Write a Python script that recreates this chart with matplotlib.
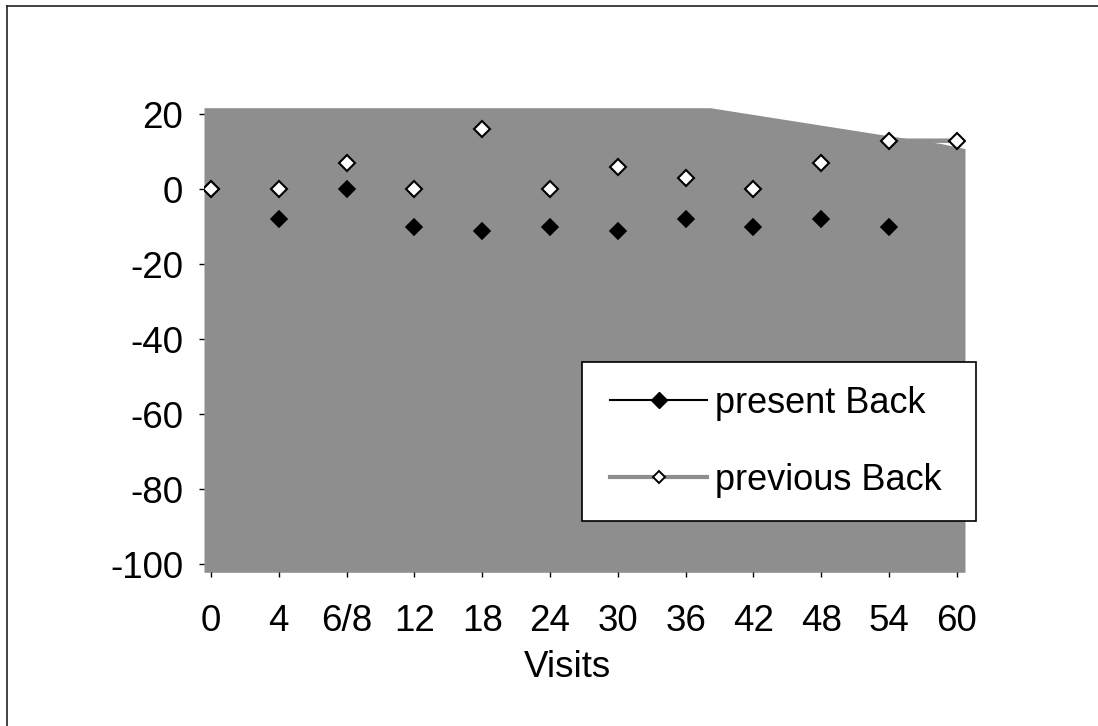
import numpy as np
import matplotlib
matplotlib.use("Agg")
import matplotlib.pyplot as plt
from matplotlib.lines import Line2D
from matplotlib.patches import Rectangle

plt.rcParams['font.family'] = ['Liberation Sans', 'DejaVu Sans']
plt.rcParams['axes.unicode_minus'] = False

# Visit labels along the category axis
visits = ["0", "4", "6/8", "12", "18", "24", "30", "36", "42", "48", "54", "60"]

# Change from baseline for each visit
present_back = [0, -8, 0, -10, -11, -10, -11, -8, -10, -8, -10, np.nan]
previous_back = [0, 0, 7, 0, 16, 0, 6, 3, 0, 7, 13, 13]

# Outline of the shaded plot background (category position, upper value)
shade_x = [-0.103, 7.36, 10.0, 10.75, 11.12]
shade_top = [21.8, 21.8, 14.3, 12.3, 10.9]
shade_bottom = -102.1

y_ticks = [-100, -80, -60, -40, -20, 0, 20]

W, H = 1098, 726
fig = plt.figure(figsize=(W / 100, H / 100), dpi=100)
ax = fig.add_axes([204 / W, 1 - 572.3 / H, (965 - 204) / W, (572.3 - 107.7) / H])

gray = '#8e8e8e'
x = np.arange(len(visits))

ax.fill_between(shade_x, shade_bottom, shade_top, color=gray, lw=0, zorder=1)

ax.plot(x, previous_back, color=gray, lw=3.2, zorder=2, solid_capstyle='butt')
ax.plot(x, present_back, ls='none', marker='D', ms=8.4, mfc='black',
        mec='black', mew=1.2, zorder=3)
ax.plot(x, previous_back, ls='none', marker='D', ms=8.2, mfc='white',
        mec='black', mew=1.5, zorder=4)

ax.set_xlim(shade_x[0], shade_x[-1])
ax.set_ylim(shade_bottom, shade_top[0])
ax.set_xticks(x)
ax.set_xticklabels(visits)
ax.set_yticks(y_ticks)
ax.set_yticklabels([str(v) for v in y_ticks])
for s in ax.spines.values():
    s.set_visible(False)
ax.patch.set_visible(False)
ax.tick_params(axis='both', direction='out', length=3.6, width=1.0,
               color='black', labelsize=26.5)
ax.tick_params(axis='x', pad=19.5)
ax.tick_params(axis='y', pad=11.5)

ax.set_xlabel('Visits', fontsize=26.5, va='baseline')
ax.xaxis.set_label_coords((567.5 - 204) / (965 - 204), (572.3 - 676.7) / (572.3 - 107.7))

# Legend box
fig.add_artist(Rectangle((582 / W, 1 - 521 / H), (976 - 582) / W, (521 - 362) / H,
                         transform=fig.transFigure, facecolor='white',
                         edgecolor='black', lw=1.2, zorder=5))
handles = [
    Line2D([], [], color='black', lw=1.5, marker='D', ms=8.4, mfc='black', mec='black'),
    Line2D([], [], color=gray, lw=3.0, marker='D', ms=6.6, mfc='white', mec='black', mew=1.4),
]
leg = fig.legend(handles, ['present Back', 'previous Back'], loc='center left',
                 bbox_to_anchor=(610 / W, 1 - 441.7 / H), frameon=False,
                 fontsize=26, handlelength=2.69, handletextpad=0.23,
                 labelspacing=1.17, borderpad=0, borderaxespad=0)
leg.set_zorder(6)

# Chart area border (top and left edges)
fig.add_artist(Line2D([7 / W, 1], [1 - 5.5 / H] * 2, transform=fig.transFigure,
                      color='#222222', lw=1.2))
fig.add_artist(Line2D([7 / W] * 2, [0, 1 - 5.5 / H], transform=fig.transFigure,
                      color='#222222', lw=1.2))

fig.savefig('out.png', dpi=100)
